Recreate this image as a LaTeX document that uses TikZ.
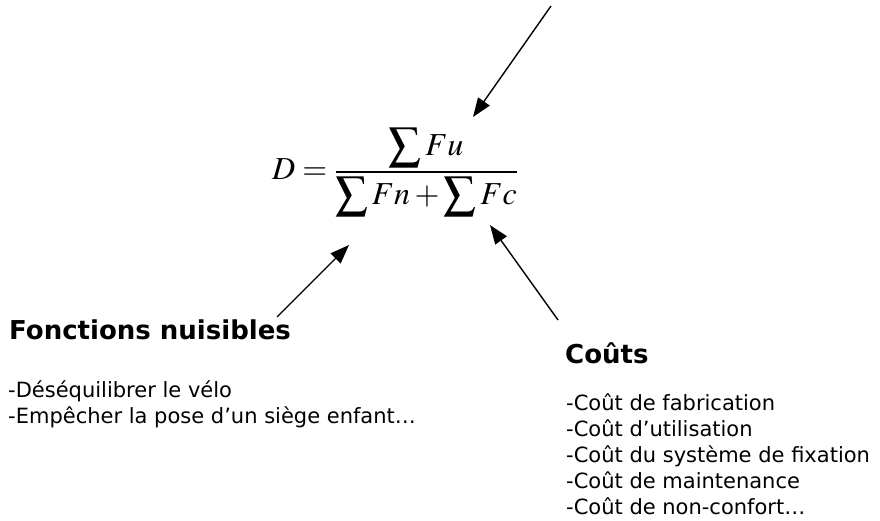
\documentclass[tikz,border=0pt]{standalone}
\usepackage{amsmath}
\usepackage{mathptmx}
\usepackage{fontspec}
\usetikzlibrary{arrows.meta}
\newfontfamily\verd{DejaVu Sans}
\tikzset{
  title/.style={anchor=base west, inner sep=0pt, font=\verd\bfseries\fontsize{26}{30}\selectfont},
  item/.style={anchor=base west, inner sep=0pt, font=\verd\fontsize{21}{26}\selectfont},
  formula/.style={anchor=base west, inner sep=0pt, font=\fontsize{32}{40}\selectfont},
  arr/.style={line width=1.4pt, -{Triangle[length=19pt,width=14pt]}}
}
\begin{document}
\begin{tikzpicture}[x=1pt,y=1pt]
\useasboundingbox (0,0) rectangle (880,520);
\node[formula] (f) at (272,340) {$D=\dfrac{\displaystyle\sum Fu}{\displaystyle\sum Fn+\displaystyle\sum Fc}$};
\node[title] (fn) at (9,181) {Fonctions nuisibles};
\node[item] (fn1) at (8,123) {-Déséquilibrer le vélo};
\node[item] (fn2) at (8,97) {-Empêcher la pose d’un siège enfant…};
\node[title] (c) at (565,157) {Coûts};
\node[item] (c1) at (566,110) {-Coût de fabrication};
\node[item] (c2) at (566,84) {-Coût d’utilisation};
\node[item] (c3) at (566,58) {-Coût du système de fixation};
\node[item] (c4) at (566,32) {-Coût de maintenance};
\node[item] (c5) at (566,6) {-Coût de non-confort…};
\coordinate (a1s) at (551,514);
\coordinate (a1e) at (473,403);
\coordinate (a2s) at (277,203);
\coordinate (a2e) at (349,275);
\coordinate (a3s) at (558,200);
\coordinate (a3e) at (490,295);
\draw[arr] (a1s) -- (a1e);
\draw[arr] (a2s) -- (a2e);
\draw[arr] (a3s) -- (a3e);
\end{tikzpicture}
\end{document}
